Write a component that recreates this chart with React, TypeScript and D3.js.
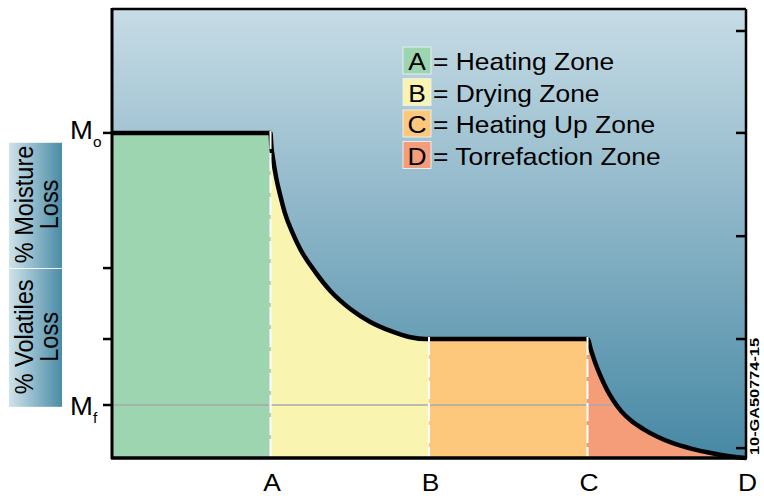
import React from "react";
import * as d3 from "d3";

// ---- data ----
const zoneLetters = ["A", "B", "C", "D"];
const zoneNames = ["Heating Zone", "Drying Zone", "Heating Up Zone", "Torrefaction Zone"];
const zoneBounds = [0, 1, 2, 3, 4];
// mass remaining curve (x in zone units, y in % of axis height)
const curveX = [
  0, 1, 1.005, 1.017, 1.036, 1.062, 1.093, 1.137, 1.188, 1.283, 1.378, 1.504, 1.63, 1.757, 1.883, 1.978, 2,
  3, 3.022, 3.047, 3.079, 3.117, 3.161, 3.211, 3.274, 3.35, 3.438, 3.539, 3.653, 3.779, 3.886, 4,
];
const curveY = [
  72.4, 72.4, 69.7, 66.4, 62.4, 58.4, 54.3, 50.3, 46.5, 41.4, 37.2, 33.2, 30.3, 28.3, 26.9, 26.5, 26.5,
  26.5, 24.05, 21.4, 18.5, 15.6, 12.9, 10.5, 8.35, 6.5, 4.8, 3.3, 2.1, 1.1, 0.45, 0,
];
const leftTicks = [72.4, 42.3, 26.5, 11.8];
const rightTicks = [95.1, 72.4, 49.4, 26.5, 2.2];
const moistureFinal = 11.8;
const leftLabels = ["o", "f"];
const leftLabelValues = [72.4, 11.8];
const sideLabelLines = [["% Moisture", "Loss"], ["% Volatiles", "Loss"]];
const sideLabelTop = [70.2, 42.1];
const sideLabelBottom = [42.3, 11.4];
const figureId = "10-GA50774-15";

// ---- styles ----
const zoneColors = ["#9dd5b1", "#f9f5b1", "#fdc87b", "#f59c79"];
const FONT = "'Liberation Sans', Arial, Helvetica, sans-serif";
const SX = 1.1; // horizontal stretch of the original artwork

export default function App() {
  const W = 764, H = 498;
  const x = d3.scaleLinear().domain([0, 4]).range([112, 746]);
  const y = d3.scaleLinear().domain([0, 100]).range([458, 9]);
  const pts: [number, number][] = curveX.map((v, i) => [v, curveY[i]]);

  const area = d3
    .area<[number, number]>()
    .x((d) => x(d[0]))
    .y0(y(0))
    .y1((d) => y(d[1]))
    .curve(d3.curveMonotoneX);
  const line = d3
    .line<[number, number]>()
    .x((d) => x(d[0]))
    .y((d) => y(d[1]))
    .curve(d3.curveMonotoneX);

  const valAt = (xv: number) => {
    for (let i = 0; i < pts.length - 1; i++) {
      if (xv >= pts[i][0] && xv <= pts[i + 1][0]) {
        const t = (xv - pts[i][0]) / (pts[i + 1][0] - pts[i][0] || 1);
        return pts[i][1] + t * (pts[i + 1][1] - pts[i][1]);
      }
    }
    return 0;
  };
  // where the curve crosses Mf in the torrefaction zone
  let mfEnd = 4;
  for (let i = 0; i < pts.length - 1; i++) {
    const [x0, y0] = pts[i];
    const [x1, y1] = pts[i + 1];
    if (x0 >= 3 && y0 >= moistureFinal && y1 < moistureFinal) {
      mfEnd = x0 + ((y0 - moistureFinal) / (y0 - y1)) * (x1 - x0);
      break;
    }
  }

  const plotL = x(0), plotR = x(4), plotT = y(100), plotB = y(0);

  return (
    <svg
      width={W}
      height={H}
      style={{ position: "absolute", left: 0, top: 0, display: "block", background: "#fff" }}
      fontFamily={FONT}
    >
      <defs>
        <linearGradient id="bg" x1="0" y1={plotT} x2="0" y2={plotB} gradientUnits="userSpaceOnUse">
          <stop offset="0" stopColor="#c7dce6" />
          <stop offset="1" stopColor="#4788a4" />
        </linearGradient>
        <linearGradient id="side" x1="0" y1="0" x2="1" y2="0">
          <stop offset="0" stopColor="#cfe3eb" />
          <stop offset="1" stopColor="#4a8ba6" />
        </linearGradient>
        {zoneLetters.map((z, i) => (
          <clipPath id={`clip${i}`} key={z}>
            <rect x={x(zoneBounds[i])} y={0} width={x(zoneBounds[i + 1]) - x(zoneBounds[i])} height={H} />
          </clipPath>
        ))}
      </defs>

      {/* background */}
      <rect x={plotL} y={plotT} width={plotR - plotL} height={plotB - plotT} fill="url(#bg)" />

      {/* zone fills */}
      {zoneLetters.map((z, i) => (
        <path key={z} d={area(pts) || ""} fill={zoneColors[i]} clipPath={`url(#clip${i})`} />
      ))}

      {/* Mf reference line */}
      <line x1={plotL} x2={x(mfEnd)} y1={y(moistureFinal)} y2={y(moistureFinal)} stroke="#a9a9a9" strokeWidth={1.5} />

      {/* curve */}
      <path d={line(pts) || ""} fill="none" stroke="#000" strokeWidth={4.5} strokeLinejoin="round" />

      {/* zone boundary dashes */}
      {zoneBounds.slice(1, 4).map((b) => (
        <line
          key={b}
          x1={x(b)}
          x2={x(b)}
          y1={y(valAt(b)) - 2}
          y2={plotB}
          stroke="#fff"
          strokeWidth={2}
          strokeDasharray="18,4"
        />
      ))}

      {/* frame */}
      <line x1={plotL} x2={plotR} y1={plotT} y2={plotT} stroke="#000" strokeWidth={2.5} />
      <line x1={plotR} x2={plotR} y1={plotT} y2={plotB} stroke="#000" strokeWidth={2.5} />
      <line x1={plotL} x2={plotL} y1={plotT - 1} y2={plotB + 1} stroke="#000" strokeWidth={3} />
      <line x1={plotL - 1} x2={plotR + 1} y1={plotB} y2={plotB} stroke="#000" strokeWidth={3.5} />

      {/* ticks */}
      {leftTicks.map((t) => (
        <line key={"l" + t} x1={plotL - 9} x2={plotL} y1={y(t)} y2={y(t)} stroke="#000" strokeWidth={2.5} />
      ))}
      {rightTicks.map((t) => (
        <line key={"r" + t} x1={plotR - 10} x2={plotR} y1={y(t)} y2={y(t)} stroke="#000" strokeWidth={2.5} />
      ))}

      {/* M labels */}
      {leftLabels.map((s, i) => (
        <text
          key={s}
          transform={`translate(70,${y(leftLabelValues[i]) + (i === 0 ? 6 : 10)}) scale(${SX},1)`}
          fontSize={25}
          fill="#000"
        >
          M
          <tspan fontSize={14} dy={8}>
            {s}
          </tspan>
        </text>
      ))}

      {/* x labels */}
      {zoneLetters.map((z, i) => (
        <text
          key={z}
          transform={`translate(${x(zoneBounds[i + 1]) + 1.5},491) scale(${SX},1)`}
          fontSize={24}
          textAnchor="middle"
          fill="#000"
        >
          {z}
        </text>
      ))}

      {/* side labels */}
      {sideLabelLines.map((lines, i) => {
        const top = y(sideLabelTop[i]);
        const bot = y(sideLabelBottom[i]);
        const cy = (top + bot) / 2 - 1;
        return (
          <g key={i}>
            <rect x={9} y={top} width={53} height={bot - top} fill="url(#side)" />
            {lines.map((ln, j) => (
              <text
                key={j}
                transform={`translate(${j === 0 ? 33 : 58},${cy}) scale(${SX},1) rotate(-90)`}
                fontSize={23.5}
                textAnchor="middle"
                fill="#000"
              >
                {ln}
              </text>
            ))}
          </g>
        );
      })}

      {/* legend */}
      {zoneLetters.map((z, i) => {
        const top = 47 + i * 31.5;
        return (
          <g key={z}>
            <rect x={403} y={top} width={28} height={27} fill={zoneColors[i]} stroke="#e8eef0" strokeWidth={1} />
            <text
              transform={`translate(417,${top + 23}) scale(${SX},1)`}
              fontSize={24}
              textAnchor="middle"
              fill="#000"
            >
              {z}
            </text>
            <text transform={`translate(433,${top + 23}) scale(${SX},1)`} fontSize={24} fill="#000">
              {"= " + zoneNames[i]}
            </text>
          </g>
        );
      })}

      {/* figure id */}
      <text
        transform={`translate(759,455) rotate(-90)`}
        fontSize={13}
        fontWeight="bold"
        textLength={117}
        lengthAdjust="spacingAndGlyphs"
        fill="#000"
      >
        {figureId}
      </text>
    </svg>
  );
}
